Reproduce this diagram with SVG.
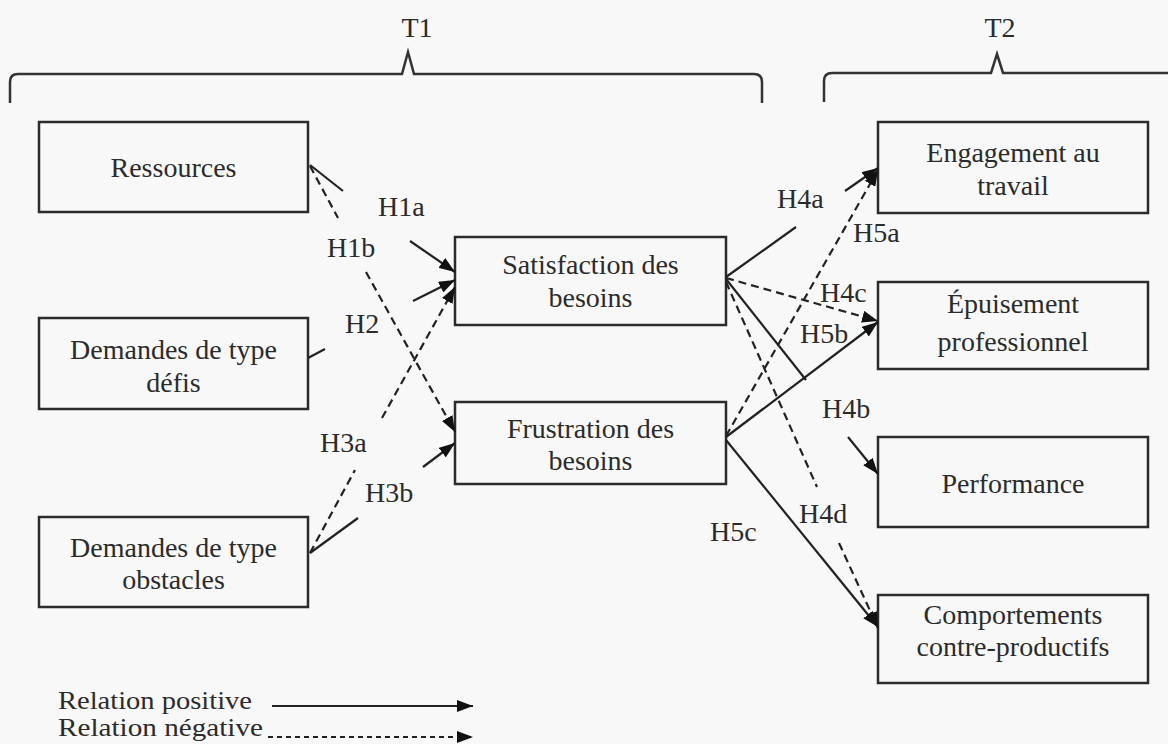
<svg xmlns="http://www.w3.org/2000/svg" width="1168" height="744" viewBox="0 0 1168 744">
<defs>
<style>
.bg{fill:#f8f8f8}
.box{fill:none;stroke:#2b2b2b;stroke-width:2.5}
.t{font-family:"Liberation Serif","Times New Roman",serif;font-size:28px;fill:#2b2b2b}
.lg{font-size:26px}
.c{text-anchor:middle}
.pos{fill:none;stroke:#222;stroke-width:2.2}
.neg{fill:none;stroke:#222;stroke-width:2.2;stroke-dasharray:8 5}
.br{fill:none;stroke:#333;stroke-width:2.5}
</style>
<marker id="ah" viewBox="0 0 16 12" refX="16" refY="6" markerWidth="16" markerHeight="12" markerUnits="userSpaceOnUse" orient="auto">
<path d="M0,0 L16,6 L0,12 z" fill="#111"/>
</marker>
</defs>
<rect class="bg" x="0" y="0" width="1168" height="744"/>

<g id="braces">
<text class="t c" x="417" y="37">T1</text>
<path class="br" d="M10,103 L10,82 Q10,74 18,74 L402,74 L408,52 L414,74 L754,74 Q762,74 762,82 L762,103"/>
<text class="t c" x="1000" y="37">T2</text>
<path class="br" d="M824,102 L824,81 Q824,73 832,73 L991,73 L997,54 L1003,73 L1168,73"/>
</g>

<g id="ressources">
<rect class="box" x="39" y="122" width="269" height="90"/>
<text class="t c" x="173.5" y="177">Ressources</text>
</g>
<g id="defis">
<rect class="box" x="39" y="318" width="269" height="91"/>
<text class="t c" x="173.5" y="359">Demandes de type</text>
<text class="t c" x="173.5" y="392">défis</text>
</g>
<g id="obstacles">
<rect class="box" x="39" y="517" width="269" height="90"/>
<text class="t c" x="173.5" y="557">Demandes de type</text>
<text class="t c" x="173.5" y="589">obstacles</text>
</g>
<g id="satisfaction">
<rect class="box" x="455" y="237" width="271" height="88"/>
<text class="t c" x="590.5" y="274">Satisfaction des</text>
<text class="t c" x="590.5" y="307">besoins</text>
</g>
<g id="frustration">
<rect class="box" x="455" y="402" width="271" height="82"/>
<text class="t c" x="590.5" y="438">Frustration des</text>
<text class="t c" x="590.5" y="470">besoins</text>
</g>
<g id="engagement">
<rect class="box" x="878" y="122" width="270" height="91"/>
<text class="t c" x="1013" y="162">Engagement au</text>
<text class="t c" x="1013" y="195">travail</text>
</g>
<g id="epuisement">
<rect class="box" x="878" y="282" width="270" height="87"/>
<text class="t c" x="1013" y="313">Épuisement</text>
<text class="t c" x="1013" y="351">professionnel</text>
</g>
<g id="performance">
<rect class="box" x="878" y="437" width="270" height="90"/>
<text class="t c" x="1013" y="493">Performance</text>
</g>
<g id="comportements">
<rect class="box" x="878" y="595" width="270" height="88"/>
<text class="t c" x="1013" y="624">Comportements</text>
<text class="t c" x="1013" y="656">contre-productifs</text>
</g>

<g id="connectors">
<line class="pos" x1="310" y1="165" x2="343" y2="191"/>
<line class="pos" x1="410" y1="241" x2="455" y2="272" marker-end="url(#ah)"/>
<line class="neg" x1="310" y1="166" x2="338" y2="218"/>
<line class="neg" x1="366" y1="272" x2="455" y2="432" marker-end="url(#ah)"/>
<line class="pos" x1="308" y1="358" x2="325" y2="349"/>
<line class="pos" x1="413" y1="301" x2="455" y2="280" marker-end="url(#ah)"/>
<line class="neg" x1="310" y1="553" x2="355" y2="470"/>
<line class="neg" x1="382" y1="418" x2="455" y2="287" marker-end="url(#ah)"/>
<line class="pos" x1="310" y1="553" x2="358" y2="518"/>
<line class="pos" x1="423" y1="467" x2="455" y2="443" marker-end="url(#ah)"/>
<line class="pos" x1="726" y1="277" x2="796" y2="227"/>
<line class="pos" x1="845" y1="191" x2="878" y2="168" marker-end="url(#ah)"/>
<line class="neg" x1="726" y1="436" x2="878" y2="170" marker-end="url(#ah)"/>
<line class="neg" x1="726" y1="278" x2="878" y2="321" marker-end="url(#ah)"/>
<line class="pos" x1="726" y1="437" x2="878" y2="322" marker-end="url(#ah)"/>
<line class="pos" x1="726" y1="279" x2="806" y2="380"/>
<line class="pos" x1="848" y1="437" x2="878" y2="474" marker-end="url(#ah)"/>
<line class="neg" x1="726" y1="282" x2="817" y2="487"/>
<line class="neg" x1="839" y1="543" x2="878" y2="628" marker-end="url(#ah)"/>
<line class="pos" x1="726" y1="440" x2="878" y2="627" marker-end="url(#ah)"/>
</g>

<g id="labels">
<text class="t" x="378" y="216">H1a</text>
<text class="t" x="327" y="257">H1b</text>
<text class="t" x="345" y="333">H2</text>
<text class="t" x="320" y="452">H3a</text>
<text class="t" x="365" y="502">H3b</text>
<text class="t" x="777" y="208">H4a</text>
<text class="t" x="853" y="242">H5a</text>
<text class="t" x="820" y="302">H4c</text>
<text class="t" x="800" y="343">H5b</text>
<text class="t" x="822" y="418">H4b</text>
<text class="t" x="799" y="523">H4d</text>
<text class="t" x="710" y="541">H5c</text>
</g>

<g id="legend">
<text class="t lg" x="58" y="709" textLength="194" lengthAdjust="spacingAndGlyphs">Relation positive</text>
<line class="pos" x1="272" y1="706" x2="473" y2="706" marker-end="url(#ah)"/>
<text class="t lg" x="58" y="736" textLength="205" lengthAdjust="spacingAndGlyphs">Relation négative</text>
<line class="pos" x1="268" y1="737" x2="473" y2="737" stroke-dasharray="5 4" marker-end="url(#ah)"/>
</g>
</svg>
